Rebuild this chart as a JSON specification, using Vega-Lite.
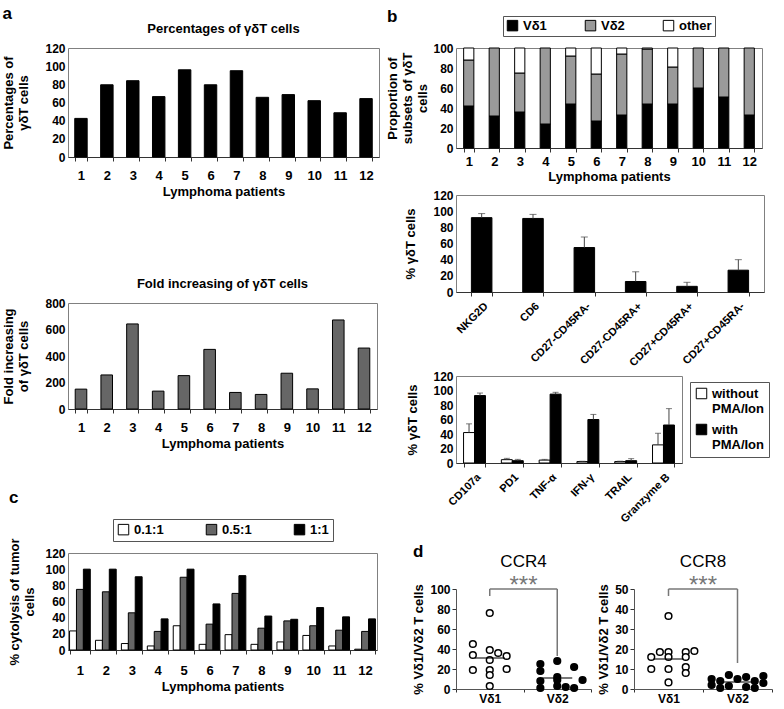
{
  "$schema": "https://vega.github.io/schema/vega-lite/v6.json",
  "padding": {"left": 2, "top": 4, "right": 0, "bottom": 0},
  "background": "#ffffff",
  "config": {
    "font": "Liberation Sans",
    "view": {"stroke": "#808080", "strokeWidth": 1},
    "axis": {"grid": false, "labelFont": "Liberation Sans", "titleFont": "Liberation Sans", "labelFontSize": 12, "labelFontWeight": "bold", "labelColor": "#000000", "titleFontSize": 13, "titleFontWeight": "bold", "titleColor": "#000000", "domainColor": "#333333", "tickColor": "#333333"},
    "axisY": {"domain": false, "ticks": false, "labelPadding": 3},
    "title": {"font": "Liberation Sans", "fontSize": 13, "fontWeight": "bold", "color": "#000000"},
    "legend": {"labelFont": "Liberation Sans", "labelFontSize": 13, "labelFontWeight": "bold", "labelColor": "#000000", "symbolType": "square", "symbolStrokeColor": "#000000", "symbolStrokeWidth": 1, "strokeColor": "#555555", "padding": 3, "layout": {"top": {"anchor": "middle"}, "right": {"anchor": "middle"}}},
    "bar": {"stroke": "#000000", "strokeWidth": 1}
  },
  "resolve": {"scale": {"color": "independent", "xOffset": "independent", "x": "independent", "y": "independent"}, "legend": {"color": "independent"}},
  "datasets": {
    "pct": [
      {"patient": 1, "value": 42.5}, {"patient": 2, "value": 79.5}, {"patient": 3, "value": 84}, {"patient": 4, "value": 66.5},
      {"patient": 5, "value": 96}, {"patient": 6, "value": 79.5}, {"patient": 7, "value": 95}, {"patient": 8, "value": 65.7},
      {"patient": 9, "value": 68.7}, {"patient": 10, "value": 62}, {"patient": 11, "value": 48.7}, {"patient": 12, "value": 64.3}
    ],
    "fold": [
      {"patient": 1, "value": 150}, {"patient": 2, "value": 257}, {"patient": 3, "value": 642}, {"patient": 4, "value": 135},
      {"patient": 5, "value": 252}, {"patient": 6, "value": 450}, {"patient": 7, "value": 125}, {"patient": 8, "value": 110},
      {"patient": 9, "value": 270}, {"patient": 10, "value": 152}, {"patient": 11, "value": 672}, {"patient": 12, "value": 460}
    ],
    "subsets": [
      {"patient": 1, "subset": "Vδ1", "value": 42}, {"patient": 1, "subset": "Vδ2", "value": 46}, {"patient": 1, "subset": "other", "value": 12},
      {"patient": 2, "subset": "Vδ1", "value": 32}, {"patient": 2, "subset": "Vδ2", "value": 68},
      {"patient": 3, "subset": "Vδ1", "value": 36}, {"patient": 3, "subset": "Vδ2", "value": 39}, {"patient": 3, "subset": "other", "value": 25},
      {"patient": 4, "subset": "Vδ1", "value": 24}, {"patient": 4, "subset": "Vδ2", "value": 76},
      {"patient": 5, "subset": "Vδ1", "value": 44}, {"patient": 5, "subset": "Vδ2", "value": 48}, {"patient": 5, "subset": "other", "value": 8},
      {"patient": 6, "subset": "Vδ1", "value": 27}, {"patient": 6, "subset": "Vδ2", "value": 47}, {"patient": 6, "subset": "other", "value": 26},
      {"patient": 7, "subset": "Vδ1", "value": 33}, {"patient": 7, "subset": "Vδ2", "value": 61}, {"patient": 7, "subset": "other", "value": 6},
      {"patient": 8, "subset": "Vδ1", "value": 44}, {"patient": 8, "subset": "Vδ2", "value": 55}, {"patient": 8, "subset": "other", "value": 1},
      {"patient": 9, "subset": "Vδ1", "value": 44}, {"patient": 9, "subset": "Vδ2", "value": 37}, {"patient": 9, "subset": "other", "value": 19},
      {"patient": 10, "subset": "Vδ1", "value": 60}, {"patient": 10, "subset": "Vδ2", "value": 40},
      {"patient": 11, "subset": "Vδ1", "value": 51}, {"patient": 11, "subset": "Vδ2", "value": 49},
      {"patient": 12, "subset": "Vδ1", "value": 33}, {"patient": 12, "subset": "Vδ2", "value": 67}
    ],
    "markers": [
      {"marker": "NKG2D", "mean": 92, "upper": 97},
      {"marker": "CD6", "mean": 91, "upper": 96},
      {"marker": "CD27-CD45RA-", "mean": 55, "upper": 68},
      {"marker": "CD27-CD45RA+", "mean": 13, "upper": 25},
      {"marker": "CD27+CD45RA+", "mean": 7, "upper": 12},
      {"marker": "CD27+CD45RA-", "mean": 27, "upper": 40}
    ],
    "pma": [
      {"marker": "CD107a", "cond": "without PMA/Ion", "mean": 42, "upper": 54},
      {"marker": "CD107a", "cond": "with PMA/Ion", "mean": 93, "upper": 96.5},
      {"marker": "PD1", "cond": "without PMA/Ion", "mean": 4.6, "upper": 6.4},
      {"marker": "PD1", "cond": "with PMA/Ion", "mean": 3.2, "upper": 5},
      {"marker": "TNF-α", "cond": "without PMA/Ion", "mean": 4, "upper": 5},
      {"marker": "TNF-α", "cond": "with PMA/Ion", "mean": 95, "upper": 97.5},
      {"marker": "IFN-γ", "cond": "without PMA/Ion", "mean": 2, "upper": 2.5},
      {"marker": "IFN-γ", "cond": "with PMA/Ion", "mean": 60, "upper": 67},
      {"marker": "TRAIL", "cond": "without PMA/Ion", "mean": 2, "upper": 2.5},
      {"marker": "TRAIL", "cond": "with PMA/Ion", "mean": 3.2, "upper": 6},
      {"marker": "Granzyme B", "cond": "without PMA/Ion", "mean": 25, "upper": 41},
      {"marker": "Granzyme B", "cond": "with PMA/Ion", "mean": 52.4, "upper": 75}
    ],
    "cyto": [
      {"patient": 1, "ratio": "0.1:1", "value": 23.6}, {"patient": 1, "ratio": "0.5:1", "value": 75}, {"patient": 1, "ratio": "1:1", "value": 100},
      {"patient": 2, "ratio": "0.1:1", "value": 12}, {"patient": 2, "ratio": "0.5:1", "value": 72}, {"patient": 2, "ratio": "1:1", "value": 100},
      {"patient": 3, "ratio": "0.1:1", "value": 8}, {"patient": 3, "ratio": "0.5:1", "value": 46}, {"patient": 3, "ratio": "1:1", "value": 90.6},
      {"patient": 4, "ratio": "0.1:1", "value": 5}, {"patient": 4, "ratio": "0.5:1", "value": 23}, {"patient": 4, "ratio": "1:1", "value": 38.5},
      {"patient": 5, "ratio": "0.1:1", "value": 30}, {"patient": 5, "ratio": "0.5:1", "value": 90}, {"patient": 5, "ratio": "1:1", "value": 100},
      {"patient": 6, "ratio": "0.1:1", "value": 7}, {"patient": 6, "ratio": "0.5:1", "value": 32}, {"patient": 6, "ratio": "1:1", "value": 57},
      {"patient": 7, "ratio": "0.1:1", "value": 19}, {"patient": 7, "ratio": "0.5:1", "value": 70}, {"patient": 7, "ratio": "1:1", "value": 92},
      {"patient": 8, "ratio": "0.1:1", "value": 7}, {"patient": 8, "ratio": "0.5:1", "value": 27}, {"patient": 8, "ratio": "1:1", "value": 42},
      {"patient": 9, "ratio": "0.1:1", "value": 10}, {"patient": 9, "ratio": "0.5:1", "value": 36}, {"patient": 9, "ratio": "1:1", "value": 38},
      {"patient": 10, "ratio": "0.1:1", "value": 18}, {"patient": 10, "ratio": "0.5:1", "value": 30}, {"patient": 10, "ratio": "1:1", "value": 52.5},
      {"patient": 11, "ratio": "0.1:1", "value": 5}, {"patient": 11, "ratio": "0.5:1", "value": 24.5}, {"patient": 11, "ratio": "1:1", "value": 41},
      {"patient": 12, "ratio": "0.1:1", "value": 1}, {"patient": 12, "ratio": "0.5:1", "value": 23}, {"patient": 12, "ratio": "1:1", "value": 38.5}
    ],
    "ccr4": [
      {"subset": "Vδ1", "value": 76, "slot": 0}, {"subset": "Vδ1", "value": 45, "slot": -2}, {"subset": "Vδ1", "value": 39, "slot": 0},
      {"subset": "Vδ1", "value": 36, "slot": 1}, {"subset": "Vδ1", "value": 34, "slot": -2}, {"subset": "Vδ1", "value": 33, "slot": 2},
      {"subset": "Vδ1", "value": 29, "slot": 0}, {"subset": "Vδ1", "value": 19, "slot": -2}, {"subset": "Vδ1", "value": 19, "slot": 0},
      {"subset": "Vδ1", "value": 20, "slot": 2}, {"subset": "Vδ1", "value": 14, "slot": 0}, {"subset": "Vδ1", "value": 3, "slot": 0},
      {"subset": "Vδ2", "value": 28, "slot": 0}, {"subset": "Vδ2", "value": 25, "slot": -2}, {"subset": "Vδ2", "value": 22, "slot": 2},
      {"subset": "Vδ2", "value": 18, "slot": -2}, {"subset": "Vδ2", "value": 12, "slot": 0}, {"subset": "Vδ2", "value": 9, "slot": 3},
      {"subset": "Vδ2", "value": 8, "slot": -2}, {"subset": "Vδ2", "value": 9, "slot": 0}, {"subset": "Vδ2", "value": 3, "slot": 0},
      {"subset": "Vδ2", "value": 1, "slot": -2}, {"subset": "Vδ2", "value": 1, "slot": 2}, {"subset": "Vδ2", "value": 2, "slot": 1}
    ],
    "ccr8": [
      {"subset": "Vδ1", "value": 36.5, "slot": 0}, {"subset": "Vδ1", "value": 18.5, "slot": -1}, {"subset": "Vδ1", "value": 18.5, "slot": 0},
      {"subset": "Vδ1", "value": 18.5, "slot": 2}, {"subset": "Vδ1", "value": 19, "slot": 3}, {"subset": "Vδ1", "value": 16, "slot": -2},
      {"subset": "Vδ1", "value": 16, "slot": 0}, {"subset": "Vδ1", "value": 16, "slot": 2}, {"subset": "Vδ1", "value": 10, "slot": -2},
      {"subset": "Vδ1", "value": 10, "slot": 0}, {"subset": "Vδ1", "value": 11, "slot": 2}, {"subset": "Vδ1", "value": 8, "slot": 2},
      {"subset": "Vδ1", "value": 3.3, "slot": 0},
      {"subset": "Vδ2", "value": 7, "slot": -1}, {"subset": "Vδ2", "value": 6, "slot": 1}, {"subset": "Vδ2", "value": 6.5, "slot": 3},
      {"subset": "Vδ2", "value": 5, "slot": -3}, {"subset": "Vδ2", "value": 5, "slot": 0}, {"subset": "Vδ2", "value": 4, "slot": -2},
      {"subset": "Vδ2", "value": 4, "slot": 2}, {"subset": "Vδ2", "value": 3, "slot": 3}, {"subset": "Vδ2", "value": 2, "slot": -3},
      {"subset": "Vδ2", "value": 1.5, "slot": -1}, {"subset": "Vδ2", "value": 1, "slot": 1}, {"subset": "Vδ2", "value": 0.5, "slot": -2},
      {"subset": "Vδ2", "value": 0.5, "slot": 2}
    ],
    "ccr4med": [{"subset": "Vδ1", "value": 31}, {"subset": "Vδ2", "value": 11}],
    "ccr8med": [{"subset": "Vδ1", "value": 15}, {"subset": "Vδ2", "value": 3.5}],
    "ccr4br": [{"subset": "Vδ1", "value": 100, "end": 93}, {"subset": "Vδ2", "value": 100, "end": 33}],
    "ccr8br": [{"subset": "Vδ1", "value": 50, "end": 46.5}, {"subset": "Vδ2", "value": 50, "end": 13}],
    "ccr4top": [{"from": "Vδ1", "to": "Vδ2", "value": 100, "label": "***"}],
    "ccr8top": [{"from": "Vδ1", "to": "Vδ2", "value": 50, "label": "***"}]
  },
  "hconcat": [
    {
      "resolve": {"scale": {"color": "independent", "xOffset": "independent", "x": "independent", "y": "independent"}, "legend": {"color": "independent"}},
      "columns": 1, "align": "none", "spacing": 37,
      "concat": [
        {
          "title": {"text": "a", "anchor": "start", "fontSize": 17, "offset": 0},
          "resolve": {"scale": {"color": "independent", "xOffset": "independent", "x": "independent", "y": "independent"}, "legend": {"color": "independent"}},
          "columns": 1, "align": "none", "spacing": 78,
          "concat": [
            {
              "title": {"text": "Percentages of  γδT cells", "offset": 6},
              "width": 311, "height": 109,
              "data": {"name": "pct"},
              "mark": {"type": "bar", "fill": "#000000"},
              "encoding": {
                "x": {"field": "patient", "type": "ordinal", "title": "Lymphoma patients", "scale": {"paddingInner": 0.52, "paddingOuter": 0.26}, "axis": {"labelAngle": 0, "tickBand": "extent", "tickSize": 4, "labelPadding": 8, "labelFontSize": 13, "titlePadding": 3}},
                "y": {"field": "value", "type": "quantitative", "scale": {"domain": [0, 120]}, "axis": {"values": [0, 20, 40, 60, 80, 100, 120], "title": ["Percentages of", "γδT cells"], "titlePadding": 14}}
              }
            },
            {
              "title": {"text": "Fold increasing of  γδT cells", "offset": 6},
              "width": 309, "height": 106,
              "data": {"name": "fold"},
              "mark": {"type": "bar", "fill": "#666666"},
              "encoding": {
                "x": {"field": "patient", "type": "ordinal", "title": "Lymphoma patients", "scale": {"paddingInner": 0.55, "paddingOuter": 0.28}, "axis": {"labelAngle": 0, "tickBand": "extent", "tickSize": 4, "labelPadding": 8, "labelFontSize": 13, "titlePadding": 3}},
                "y": {"field": "value", "type": "quantitative", "scale": {"domain": [0, 800]}, "axis": {"values": [0, 200, 400, 600, 800], "title": ["Fold increasing", "of  γδT cells"], "titlePadding": 14}}
              }
            }
          ]
        },
        {
          "title": {"text": "c", "anchor": "start", "frame": "bounds", "fontSize": 17, "offset": 12},
          "width": 309, "height": 97,
          "data": {"name": "cyto"},
          "mark": {"type": "bar"},
          "encoding": {
            "x": {"field": "patient", "type": "ordinal", "title": "Lymphoma patients", "scale": {"paddingInner": 0.2, "paddingOuter": 0.06}, "axis": {"labelAngle": 0, "tickBand": "extent", "tickSize": 4, "labelPadding": 10, "labelFontSize": 13, "titlePadding": 3}},
            "xOffset": {"field": "ratio", "type": "nominal", "sort": ["0.1:1", "0.5:1", "1:1"]},
            "y": {"field": "value", "type": "quantitative", "scale": {"domain": [0, 120]}, "axis": {"values": [0, 20, 40, 60, 80, 100, 120], "title": ["% cytolysis of tumor", "cells"], "titlePadding": 8}},
            "color": {"field": "ratio", "type": "nominal", "scale": {"domain": ["0.1:1", "0.5:1", "1:1"], "range": ["#ffffff", "#666666", "#000000"]}, "legend": {"orient": "top", "direction": "horizontal", "title": null, "columnPadding": 40, "symbolSize": 110, "offset": 12, "padding": 4}}
          }
        }
      ]
    },
    {
      "resolve": {"scale": {"color": "independent", "xOffset": "independent", "x": "independent", "y": "independent"}, "legend": {"color": "independent"}},
      "columns": 1, "align": "none", "spacing": 18,
      "concat": [
        {
          "resolve": {"scale": {"color": "independent", "xOffset": "independent", "x": "independent", "y": "independent"}, "legend": {"color": "independent"}},
          "columns": 1, "align": "none", "spacing": 0,
          "concat": [
            {
              "resolve": {"scale": {"color": "independent", "xOffset": "independent", "x": "independent", "y": "independent"}, "legend": {"color": "independent"}},
              "columns": 1, "align": "none", "spacing": 4,
              "concat": [
                {
                  "title": {"text": "b", "anchor": "start", "frame": "bounds", "fontSize": 17, "offset": -10},
                  "width": 306, "height": 100,
                  "data": {"name": "subsets"},
                  "mark": {"type": "bar"},
                  "encoding": {
                    "x": {"field": "patient", "type": "ordinal", "title": "Lymphoma patients", "scale": {"paddingInner": 0.6, "paddingOuter": 0.3}, "axis": {"labelAngle": 0, "tickBand": "extent", "tickSize": 4, "labelPadding": 3, "labelFontSize": 13, "titlePadding": 2}},
                    "y": {"field": "value", "type": "quantitative", "stack": "zero", "scale": {"domain": [0, 100]}, "axis": {"values": [0, 20, 40, 60, 80, 100], "title": ["Proportion of", "subsets of γδT", "cells"], "titlePadding": 3}},
                    "color": {"field": "subset", "type": "nominal", "scale": {"domain": ["Vδ1", "Vδ2", "other"], "range": ["#000000", "#9a9a9a", "#ffffff"]}, "legend": {"orient": "top", "direction": "horizontal", "title": null, "columnPadding": 36, "symbolSize": 110, "offset": 12, "padding": 3}},
                    "order": {"field": "subset", "type": "nominal", "sort": "ascending"}
                  }
                },
                {
                  "width": 308, "height": 97,
                  "data": {"name": "markers"},
                  "encoding": {
                    "x": {"field": "marker", "type": "nominal", "sort": null, "title": null, "scale": {"paddingInner": 0.6, "paddingOuter": 0.3}, "axis": {"labelAngle": -45, "tickBand": "extent", "tickSize": 4, "labelPadding": 4, "labelFontSize": 11}}
                  },
                  "layer": [
                    {"mark": {"type": "bar", "fill": "#000000"}, "encoding": {"y": {"field": "mean", "type": "quantitative", "scale": {"domain": [0, 120]}, "axis": {"values": [0, 20, 40, 60, 80, 100, 120], "title": "%  γδT cells", "titlePadding": 15}}}},
                    {"mark": {"type": "rule", "color": "#444444"}, "encoding": {"y": {"field": "mean", "type": "quantitative", "scale": {"domain": [0, 120]}, "axis": {"values": [0, 20, 40, 60, 80, 100, 120], "title": "%  γδT cells", "titlePadding": 15}}, "y2": {"field": "upper"}}},
                    {"mark": {"type": "tick", "color": "#444444", "size": 7, "thickness": 1, "orient": "horizontal"}, "encoding": {"y": {"field": "upper", "type": "quantitative", "scale": {"domain": [0, 120]}, "axis": {"values": [0, 20, 40, 60, 80, 100, 120], "title": "%  γδT cells", "titlePadding": 15}}}}
                  ]
                }
              ]
            },
            {
              "width": 226, "height": 87,
              "data": {"name": "pma"},
              "encoding": {
                "x": {"field": "marker", "type": "nominal", "sort": null, "title": null, "scale": {"paddingInner": 0.42, "paddingOuter": 0.2}, "axis": {"labelAngle": -45, "tickBand": "extent", "tickSize": 4, "labelPadding": 4, "labelFontSize": 11}},
                "xOffset": {"field": "cond", "type": "nominal", "sort": ["without PMA/Ion", "with PMA/Ion"], "scale": {"paddingInner": 0}}
              },
              "layer": [
                {"mark": {"type": "bar"}, "encoding": {
                  "y": {"field": "mean", "type": "quantitative", "scale": {"domain": [0, 120]}, "axis": {"values": [0, 20, 40, 60, 80, 100, 120], "title": "%  γδT cells", "titlePadding": 13}},
                  "color": {"field": "cond", "type": "nominal", "scale": {"domain": ["without PMA/Ion", "with PMA/Ion"], "range": ["#ffffff", "#000000"]}, "legend": {"orient": "right", "title": null, "offset": 8, "padding": 5, "rowPadding": 6, "symbolSize": 110, "labelExpr": "datum.label == 'without PMA/Ion' ? ['without', 'PMA/Ion'] : ['with', 'PMA/Ion']"}}
                }},
                {"mark": {"type": "rule", "color": "#444444"}, "encoding": {"y": {"field": "mean", "type": "quantitative", "scale": {"domain": [0, 120]}, "axis": {"values": [0, 20, 40, 60, 80, 100, 120], "title": "%  γδT cells", "titlePadding": 13}}, "y2": {"field": "upper"}}},
                {"mark": {"type": "tick", "color": "#444444", "size": 6, "thickness": 1, "orient": "horizontal"}, "encoding": {"y": {"field": "upper", "type": "quantitative", "scale": {"domain": [0, 120]}, "axis": {"values": [0, 20, 40, 60, 80, 100, 120], "title": "%  γδT cells", "titlePadding": 13}}}}
              ]
            }
          ]
        },
        {
          "title": {"text": "d", "anchor": "start", "fontSize": 17, "offset": -8},
          "resolve": {"scale": {"color": "independent", "xOffset": "independent", "x": "independent", "y": "independent"}, "legend": {"color": "independent"}},
          "spacing": 5,
          "hconcat": [
            {
              "title": {"text": "CCR4", "fontSize": 17, "fontWeight": "normal", "offset": 3},
              "width": 135, "height": 100,
              "view": {"stroke": null},
              "encoding": {
                "x": {"field": "subset", "type": "nominal", "title": null, "scale": {"domain": ["Vδ1", "Vδ2"], "paddingInner": 0, "paddingOuter": 0}, "axis": {"labelAngle": 0, "tickBand": "extent", "tickSize": 3, "labelPadding": 1, "domainColor": "#555555"}},
                "y": {"field": "value", "type": "quantitative", "scale": {"domain": [0, 100]}, "axis": {"values": [0, 20, 40, 60, 80, 100], "title": "% Vδ1/Vδ2 T cells", "domain": true, "ticks": true, "tickSize": 4, "domainColor": "#555555", "labelPadding": 2, "titlePadding": 4}}
              },
              "layer": [
                {
                  "data": {"name": "ccr4"},
                  "mark": {"type": "circle", "size": 45, "stroke": "#000000", "strokeWidth": 1.5, "opacity": 1},
                  "encoding": {
                    "xOffset": {"field": "slot", "type": "ordinal", "scale": {"type": "point", "domain": [-3, -2, -1, 0, 1, 2, 3], "padding": 4}},
                    "color": {"field": "subset", "type": "nominal", "scale": {"domain": ["Vδ1", "Vδ2"], "range": ["#ffffff", "#000000"]}, "legend": null}
                  }
                },
                {
                  "data": {"name": "ccr4med"},
                  "mark": {"type": "tick", "orient": "horizontal", "size": 30, "thickness": 1.5, "color": "#000000"}
                },
                {
                  "data": {"name": "ccr4br"},
                  "mark": {"type": "rule", "color": "#777777", "strokeWidth": 1.5},
                  "encoding": {"y2": {"field": "end"}}
                },
                {
                  "data": {"name": "ccr4top"},
                  "mark": {"type": "rule", "color": "#777777", "strokeWidth": 1.5},
                  "encoding": {"x": {"field": "from", "type": "nominal"}, "x2": {"field": "to"}}
                },
                {
                  "data": {"name": "ccr4top"},
                  "mark": {"type": "text", "color": "#777777", "fontSize": 24, "baseline": "bottom", "dy": 9},
                  "encoding": {"x": {"field": "from", "type": "nominal", "bandPosition": 1}, "text": {"field": "label"}}
                }
              ]
            },
            {
              "title": {"text": "CCR8", "fontSize": 17, "fontWeight": "normal", "offset": 3},
              "width": 138, "height": 100,
              "view": {"stroke": null},
              "encoding": {
                "x": {"field": "subset", "type": "nominal", "title": null, "scale": {"domain": ["Vδ1", "Vδ2"], "paddingInner": 0, "paddingOuter": 0}, "axis": {"labelAngle": 0, "tickBand": "extent", "tickSize": 3, "labelPadding": 1, "domainColor": "#555555"}},
                "y": {"field": "value", "type": "quantitative", "scale": {"domain": [0, 50]}, "axis": {"values": [0, 10, 20, 30, 40, 50], "title": "% Vδ1/Vδ2 T cells", "domain": true, "ticks": true, "tickSize": 4, "domainColor": "#555555", "labelPadding": 2, "titlePadding": 4}}
              },
              "layer": [
                {
                  "data": {"name": "ccr8"},
                  "mark": {"type": "circle", "size": 45, "stroke": "#000000", "strokeWidth": 1.5, "opacity": 1},
                  "encoding": {
                    "xOffset": {"field": "slot", "type": "ordinal", "scale": {"type": "point", "domain": [-3, -2, -1, 0, 1, 2, 3], "padding": 4}},
                    "color": {"field": "subset", "type": "nominal", "scale": {"domain": ["Vδ1", "Vδ2"], "range": ["#ffffff", "#000000"]}, "legend": null}
                  }
                },
                {
                  "data": {"name": "ccr8med"},
                  "mark": {"type": "tick", "orient": "horizontal", "size": 30, "thickness": 1.5, "color": "#000000"}
                },
                {
                  "data": {"name": "ccr8br"},
                  "mark": {"type": "rule", "color": "#777777", "strokeWidth": 1.5},
                  "encoding": {"y2": {"field": "end"}}
                },
                {
                  "data": {"name": "ccr8top"},
                  "mark": {"type": "rule", "color": "#777777", "strokeWidth": 1.5},
                  "encoding": {"x": {"field": "from", "type": "nominal"}, "x2": {"field": "to"}}
                },
                {
                  "data": {"name": "ccr8top"},
                  "mark": {"type": "text", "color": "#777777", "fontSize": 24, "baseline": "bottom", "dy": 9},
                  "encoding": {"x": {"field": "from", "type": "nominal", "bandPosition": 1}, "text": {"field": "label"}}
                }
              ]
            }
          ]
        }
      ]
    }
  ],
  "spacing": 6
}
